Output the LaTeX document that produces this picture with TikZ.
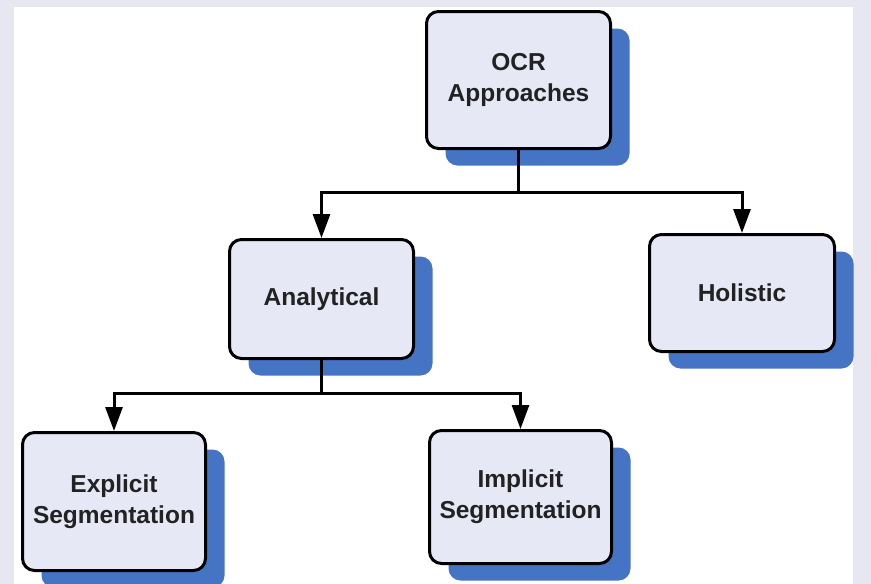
\documentclass[tikz,border=0pt]{standalone}
\usepackage{fontspec}
\setmainfont{Liberation Sans}
\usetikzlibrary{arrows.meta,shadows}

\definecolor{framebg}{HTML}{E7E7F1}
\definecolor{boxfill}{HTML}{E6E9F5}
\definecolor{shadowblue}{HTML}{4674C4}
\definecolor{inkdark}{HTML}{222222}

\tikzset{
  stagebox/.style={
    draw=black, line width=3pt, rounded corners=12pt, fill=boxfill,
    inner sep=0pt, align=center, text=inkdark,
    font=\fontsize{24.5pt}{31pt}\selectfont\bfseries,
    general shadow={fill=shadowblue, shadow xshift=19pt, shadow yshift=-17pt}
  },
  link/.style={draw=black, line width=3pt,
    -{Triangle[length=24pt,width=17pt]}}
}

\begin{document}
\begin{tikzpicture}[x=1pt,y=-1pt]
  % page frame and white canvas
  \useasboundingbox (0,0) rectangle (871,584);
  \fill[framebg] (0,0) rectangle (871,584);
  \fill[white] (14,7) rectangle (853,584);

  % boxes of the hierarchy
  \node[stagebox, minimum width=184pt, minimum height=137pt] (ocr) at (518.5,80) {OCR\\Approaches};
  \node[stagebox, minimum width=184pt, minimum height=119pt] (ana) at (321.5,299) {Analytical};
  \node[stagebox, minimum width=185pt, minimum height=117pt] (hol) at (742,293) {Holistic};
  \node[stagebox, minimum width=183pt, minimum height=138pt] (exp) at (114,501.5) {Explicit\\Segmentation};
  \node[stagebox, minimum width=182pt, minimum height=133pt] (imp) at (520.5,497) {Implicit\\Segmentation};

  % junctions of the connector buses
  \coordinate (busA) at (518.5,192);
  \coordinate (busB) at (321.5,393);

  % connectors
  \draw[line width=3pt] (ocr.south) -- (busA);
  \draw[link] (busA) -| (ana.north);
  \draw[link] (busA) -| (hol.north);
  \draw[line width=3pt] (ana.south) -- (busB);
  \draw[link] (busB) -| (exp.north);
  \draw[link] (busB) -| (imp.north);
\end{tikzpicture}
\end{document}
